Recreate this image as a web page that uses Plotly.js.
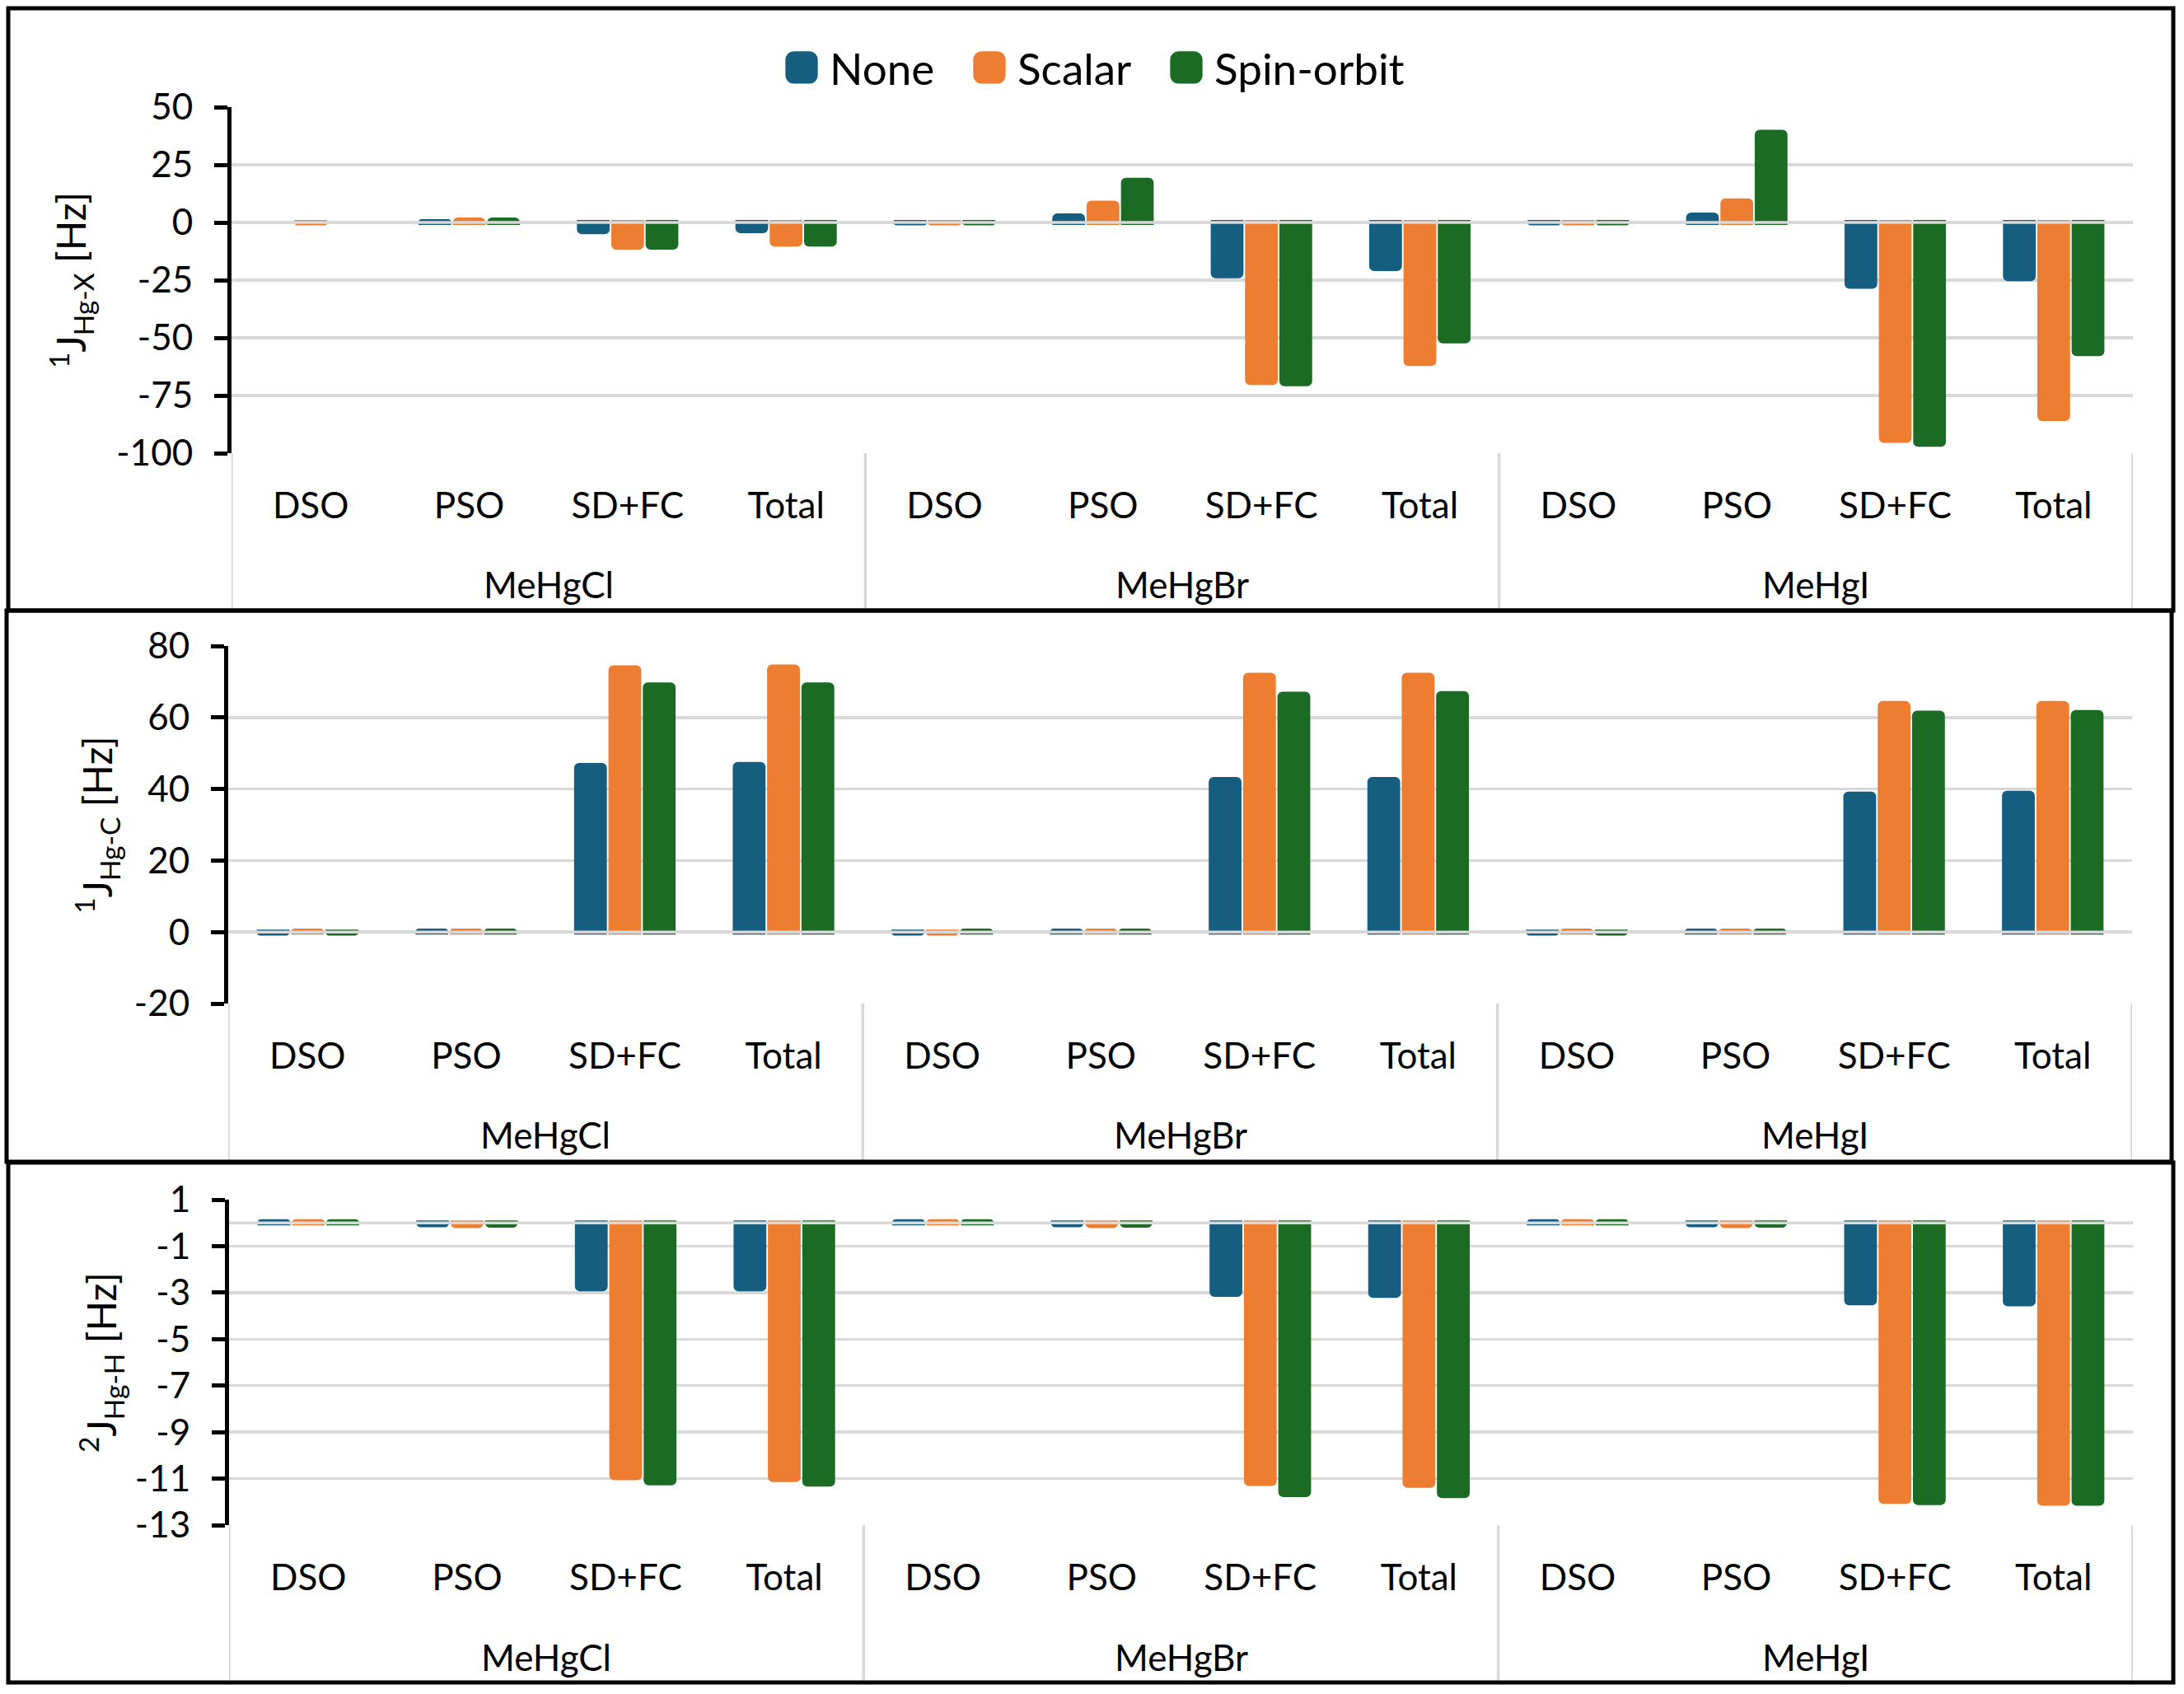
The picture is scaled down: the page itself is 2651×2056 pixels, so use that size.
<!DOCTYPE html>
<html><head><meta charset="utf-8">
<script src="https://cdn.plot.ly/plotly-3.0.1.min.js"></script>
<style>html,body{margin:0;padding:0;background:#fff}#chart{width:2651px;height:2056px}</style>
</head><body><div id="chart"></div>
<script>
// ---- data ----
const molecules = ['MeHgCl', 'MeHgBr', 'MeHgI'];
const terms = ['DSO', 'PSO', 'SD+FC', 'Total'];
const seriesNames = ['None', 'Scalar', 'Spin-orbit'];
const seriesColors = ['#165E80', '#ED7D31', '#1B6B25'];

// 1J(Hg-X) [Hz]  order: MeHgCl(DSO,PSO,SD+FC,Total), MeHgBr(...), MeHgI(...)
const jHgX_None   = [null, 0.4, -4.0, -3.6,   -0.2, 2.9, -23.1, -20.0,  -0.2, 3.2, -27.7, -24.4];
const jHgX_Scalar = [-0.2, 1.1, -10.7, -9.4,  -0.2, 8.4, -69.4, -61.2,  -0.2, 9.4, -94.5, -85.0];
const jHgX_SO     = [null, 1.1, -10.7, -9.4,  -0.2, 18.3, -69.9, -51.3, -0.2, 39.1, -96.2, -56.9];

// 1J(Hg-C) [Hz]
const jHgC_None   = [-0.3, 0.3, 46.6, 46.9,  -0.3, 0.3, 42.7, 42.7,  -0.3, 0.3, 38.6, 38.8];
const jHgC_Scalar = [0.3, 0.3, 73.9, 74.1,   -0.3, 0.3, 71.8, 71.8,   0.3, 0.3, 63.9, 63.9];
const jHgC_SO     = [-0.3, 0.3, 69.1, 69.1,   0.3, 0.3, 66.5, 66.7,  -0.3, 0.3, 61.2, 61.4];

// 2J(Hg-H) [Hz]
const jHgH_None   = [0.05, -0.08, -2.84, -2.84,   0.05, -0.08, -3.08, -3.12,   0.05, -0.08, -3.44, -3.48];
const jHgH_Scalar = [0.05, -0.12, -10.96, -11.04, 0.05, -0.12, -11.21, -11.29, 0.05, -0.12, -11.98, -12.06];
const jHgH_SO     = [0.05, -0.10, -11.18, -11.24, 0.05, -0.10, -11.69, -11.73, 0.05, -0.10, -12.03, -12.06];

const yTitles = ['<sup>1</sup>J<sub>Hg-X</sub> [Hz]', '<sup>1</sup>J<sub>Hg-C</sub> [Hz]', '<sup>2</sup>J<sub>Hg-H</sub> [Hz]'];
const yTicks1 = [50, 25, 0, -25, -50, -75, -100];
const yTicks2 = [80, 60, 40, 20, 0, -20];
const yTicks3 = [1, -1, -3, -5, -7, -9, -11, -13];
const yRanges = [[-100, 50], [-20, 80], [-13, 1]];

// ---- build ----
const W = 2651, H = 2056;
const px = v => v / W;
const py = v => 1 - v / H;
const FONT = 'Lato, "Open Sans", sans-serif';

const xKey = molecules.flatMap(m => terms.map(t => m + ' | ' + t));
const xTerm = molecules.flatMap(() => terms);
const yTickSets = [yTicks1, yTicks2, yTicks3];

const panels = [
  [jHgX_None, jHgX_Scalar, jHgX_SO],
  [jHgC_None, jHgC_Scalar, jHgC_SO],
  [jHgH_None, jHgH_Scalar, jHgH_SO]
];

// plot-area boxes in pixels: [x0, x1, yTop, yBottom]
const boxes = [[281, 2589, 130, 550], [277, 2588, 784, 1218], [278, 2589, 1456, 1851]];
const frames = [[10, 10, 2638, 741], [8, 741, 2636, 1410], [10, 1411, 2638, 2042]];
const groupLabelY = [709, 1377, 2011];
const titleStandoffs = [23, 13, 9];
const legendIds = ['legend', 'legend2', 'legend3'];
const legendX = [939, 1167, 1406];

const traces = [];
panels.forEach((series, p) => {
  const xa = p === 0 ? 'x' : 'x' + (p + 1);
  const ya = p === 0 ? 'y' : 'y' + (p + 1);
  series.forEach((vals, s) => {
    traces.push({
      type: 'bar', x: xKey, y: vals, name: seriesNames[s],
      xaxis: xa, yaxis: ya, showlegend: p === 0, legend: legendIds[s],
      marker: {color: seriesColors[s], line: {color: seriesColors[s], width: 6}, cornerradius: 3},
      hoverinfo: 'skip'
    });
  });
});

const layout = {
  width: W, height: H, margin: {l: 0, r: 0, t: 0, b: 0},
  paper_bgcolor: '#fff', plot_bgcolor: '#fff',
  font: {family: FONT, color: '#000', size: 44},
  barmode: 'group', bargap: 0.35, bargroupgap: 0.19,
  showlegend: true,
  shapes: [], annotations: []
};
legendIds.forEach((id, s) => {
  layout[id] = {orientation: 'h', x: px(legendX[s]), xanchor: 'left', y: py(82), yanchor: 'middle',
                font: {family: FONT, size: 53, color: '#000'}, itemwidth: 58,
                bgcolor: 'rgba(0,0,0,0)'};
});

boxes.forEach((b, p) => {
  const n = p === 0 ? '' : String(p + 1);
  const ovl = String(p + 4);
  const plotH = b[3] - b[2];
  const ticks = yTickSets[p];
  layout['xaxis' + n] = {
    type: 'category', domain: [px(b[0]), px(b[1])], anchor: 'y' + n,
    range: [-0.5, xKey.length - 0.5], autorange: false,
    tickmode: 'array', tickvals: xKey, ticktext: xTerm,
    ticks: '', showgrid: false, showline: false, zeroline: false,
    tickfont: {family: FONT, size: 44, color: '#000'}, ticklabelstandoff: 34
  };
  const yBase = {
    domain: [py(b[3]), py(b[2])], range: yRanges[p], autorange: false,
    tickmode: 'array', tickvals: ticks, ticktext: ticks.map(String)
  };
  layout['yaxis' + n] = Object.assign({}, yBase, {
    anchor: 'x' + n, showline: true, linecolor: '#000', linewidth: 5,
    ticks: 'outside', ticklen: 16, tickwidth: 5, tickcolor: '#000',
    showgrid: true, gridcolor: '#d9d9d9', gridwidth: 3.5, zeroline: false,
    tickfont: {family: FONT, size: 44, color: '#000'}, ticklabelstandoff: 17,
    title: {text: yTitles[p], font: {family: FONT, size: 48, color: '#000'}, standoff: titleStandoffs[p]}
  });
  layout['yaxis' + ovl] = Object.assign({}, yBase, {
    anchor: 'x' + n, overlaying: 'y' + n, side: 'left',
    showline: false, ticks: 'inside', ticklen: 16, tickwidth: 5, tickcolor: '#000',
    showticklabels: false, showgrid: false, zeroline: false
  });
  // category axis line at zero (drawn over bars, as in the original)
  layout.shapes.push({type: 'line', xref: 'x' + n + ' domain', x0: 0, x1: 1, yref: 'y' + n, y0: 0, y1: 0,
                      line: {color: '#d9d9d9', width: 3.5}, layer: 'above'});
  // group dividers below the plot area
  const bottomFrac = -(frames[p][3] - b[3]) / plotH;
  for (let g = 0; g <= molecules.length; g++) {
    layout.shapes.push({type: 'line', xref: 'x' + n, x0: g * terms.length - 0.5, x1: g * terms.length - 0.5,
                        yref: 'y' + n + ' domain', y0: 0, y1: bottomFrac,
                        line: {color: '#d9d9d9', width: 3.5}, layer: 'below'});
  }
  // group labels
  molecules.forEach((m, g) => {
    layout.annotations.push({text: m, showarrow: false, xref: 'x' + n, x: g * terms.length + (terms.length - 1) / 2,
                             yref: 'y' + n + ' domain', y: -(groupLabelY[p] - b[3]) / plotH, yanchor: 'middle',
                             font: {family: FONT, size: 44, color: '#000'}});
  });
  const f = frames[p];
  layout.shapes.push({type: 'rect', xref: 'paper', yref: 'paper', x0: px(f[0]), x1: px(f[2]), y0: py(f[1]), y1: py(f[3]),
                      line: {color: '#000', width: 5}, fillcolor: 'rgba(0,0,0,0)', layer: 'above'});
});

Plotly.newPlot('chart', traces, layout, {displayModeBar: false, staticPlot: true}).then(() => {
  document.querySelectorAll('.legendpoints path').forEach(p => {
    const t = p.getAttribute('transform') || '';
    p.setAttribute('transform', t + ' scale(3.17)');
    p.style.strokeWidth = '0.4px';
  });
});
</script></body></html>
